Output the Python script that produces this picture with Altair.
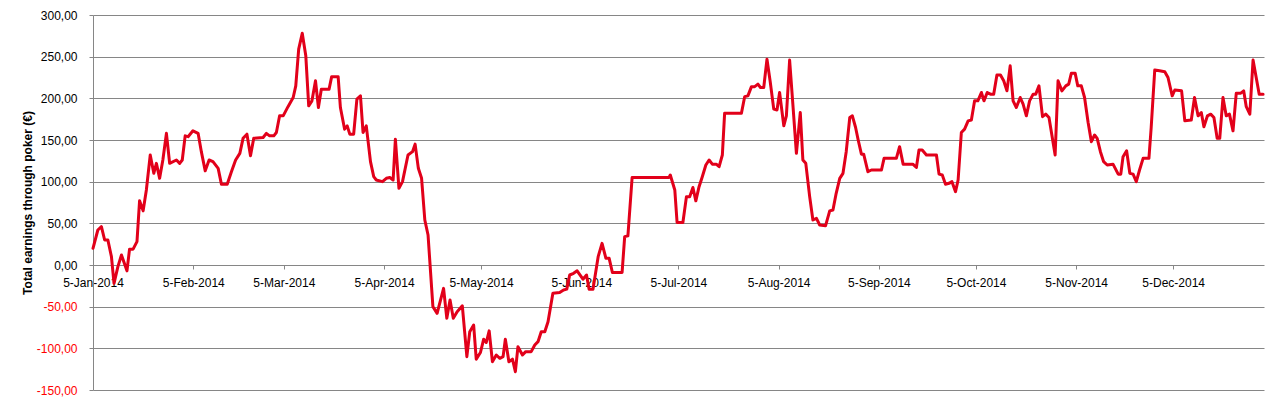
import altair as alt
import pandas as pd

START = "2014-01-05"

# day offsets from 5-Jan-2014
day_offsets = [
    0, 1.5, 2.6, 3.6, 4.6, 5.7, 6.5, 7.7, 8.8, 10.5, 11.3, 12.4, 13.6, 14.4, 15.5, 16.5, 17.7, 18.8, 19.6, 20.6,
    21.6, 22.7, 23.7, 25.8, 26.8, 27.6, 28.5, 29.4, 30.9, 32.5, 33.5, 34.7, 35.9, 37.1, 38.7, 39.7, 41.5, 42.8,
    44.1, 45.4, 46.4, 47.6, 48.7, 49.7, 52.6, 53.6, 54.6, 55.9, 56.7, 57.7, 58.8, 60.3, 61.9, 62.7, 63.6, 64.7,
    65.8, 66.7, 67.7, 68.8, 69.7, 70.6, 73.0, 73.8, 75.8, 76.5, 77.8, 78.6, 79.4, 80.6, 81.6, 82.7, 83.5, 84.5,
    85.8, 86.8, 87.6, 89.5, 90.7, 91.8, 92.8, 93.5, 94.6, 95.7, 97.4, 98.8, 99.6, 100.6, 101.6, 102.6, 103.6,
    105.1, 106.4, 108.4, 109.4, 110.4, 111.4, 112.6, 114.2, 115.6, 116.5, 117.7, 118.5, 119.8, 120.8, 121.6,
    122.5, 123.5, 124.7, 125.8, 126.8, 127.5, 128.6, 129.7, 130.6, 131.4, 132.8, 133.8, 135.5, 136.6, 137.6,
    138.6, 139.7, 140.7, 142.2, 144.3, 145.5, 146.5, 147.4, 148.6, 149.7, 151.5, 152.6, 153.4, 154.6, 156.2,
    157.4, 158.6, 159.6, 160.6, 163.6, 164.4, 165.4, 166.7, 178.1, 178.5, 179.9, 180.6, 182.4, 183.5, 184.5,
    185.5, 186.4, 187.4, 188.4, 189.5, 190.5, 191.5, 192.7, 193.6, 194.6, 195.3, 200.5, 201.5, 202.5, 203.6,
    204.6, 205.6, 206.4, 207.4, 208.4, 209.4, 210.5, 211.5, 212.3, 213.6, 214.4, 215.4, 216.4, 217.5, 218.7,
    219.5, 220.4, 221.6, 222.6, 223.7, 224.7, 226.5, 227.8, 228.8, 229.8, 230.9, 231.9, 232.9, 234.0,
    234.8, 235.8, 236.6, 237.6, 238.3, 239.6, 240.7, 243.8, 244.6, 248.4, 249.4, 250.5, 253.5, 254.6, 255.4,
    256.4, 257.7, 260.8, 261.6, 262.6, 263.6, 264.7, 265.6, 266.7, 267.5, 268.5, 269.5, 270.6, 271.6, 272.6,
    273.6, 274.7, 275.5, 276.5, 277.5, 278.5, 279.5, 280.6, 281.6, 282.6, 283.6, 284.5, 285.5, 286.7, 287.6,
    288.6, 289.6, 290.7, 291.5, 292.5, 293.6, 294.6, 295.6, 297.5, 298.4, 299.6, 300.8, 301.7, 302.5, 303.7,
    304.5, 305.6, 306.6, 307.7, 308.7, 309.7, 310.5, 311.5, 312.5, 313.6, 315.4, 317.0, 317.8, 318.5, 319.6,
    320.6, 321.6, 322.6, 323.6, 324.7, 326.5, 327.2, 328.3, 329.8, 331.4, 332.4, 333.7, 334.5, 336.6, 337.6,
    339.6, 340.6, 341.7, 342.7, 343.5, 344.6, 345.6, 346.6, 347.6, 348.4, 349.4, 350.4, 351.4, 352.5, 353.5,
    354.8, 355.8, 356.6, 357.7, 358.7, 360.6, 361.8,
]

earnings = [
    20, 42, 46, 30, 30, 10, -22, -2, 12, -7, 19, 19, 28, 77, 65, 90, 132, 110, 122, 104,
    126, 158, 122, 126, 122, 126, 155, 154, 161, 158, 136, 113, 126, 124, 116, 97, 97, 112,
    126, 134, 152, 157, 131, 152, 153, 158, 155, 155, 159, 179, 179, 190, 201, 215, 259, 278,
    251, 191, 197, 221, 189, 211, 211, 226, 226, 189, 163, 167, 157, 157, 199, 203, 159, 167,
    124, 106, 102, 100, 104, 105, 102, 151, 92, 100, 132, 136, 145, 116, 104, 54, 36,
    -50, -58, -28, -64, -42, -64, -56, -49, -110, -80, -72, -113, -105, -89, -93,
    -79, -116, -108, -112, -110, -89, -116, -113, -128, -98, -108, -104, -104, -96, -92,
    -80, -80, -68, -34, -33, -30, -29, -12, -10, -7, -17, -12, -29, -29, 10,
    26, 8, 8, -9, -9, 34, 35, 105, 105, 108, 90, 51, 51, 82, 82,
    93, 77, 94, 106, 120, 126, 121, 121, 118, 132, 182, 182, 202, 203, 214,
    214, 217, 213, 213, 247, 220, 187, 186, 207, 167, 179, 246, 193, 134, 183,
    126, 122, 82, 54, 56, 48, 47, 65, 66, 86, 104, 110, 136, 177,
    179, 165, 150, 133, 133, 112, 114, 114, 128, 128, 142, 121, 121, 117, 138,
    138, 132, 132, 109, 108, 97, 98, 100, 88, 102, 159, 163, 173, 174, 197,
    197, 207, 197, 207, 205, 205, 228, 228, 221, 209, 239, 197, 189, 201, 193,
    179, 197, 205, 205, 215, 178, 181, 177, 132, 221, 209, 215, 217, 230, 230,
    215, 215, 201, 171, 148, 156, 152, 136, 124, 120, 121, 109, 109, 130, 137,
    110, 109, 100, 114, 128, 128, 165, 234, 233, 232, 225, 203, 210, 209, 173,
    174, 201, 179, 183, 166, 179, 181, 177, 152, 152, 201, 179, 181, 161, 206,
    206, 209, 190, 181, 246, 205, 205,
]

tick_months = [1, 2, 3, 4, 5, 6, 7, 8, 9, 10, 11, 12]
y_ticks = [-150, -100, -50, 0, 50, 100, 150, 200, 250, 300]

dates = pd.Timestamp(START) + pd.to_timedelta(day_offsets, unit="D")
df = pd.DataFrame({"date": dates.strftime("%Y-%m-%dT%H:%M:%S"), "earn": earnings})

GRID = "#868686"
FONT = "Liberation Sans"

x_axis = alt.Axis(
    values=[alt.DateTime(year=2014, month=m, date=5) for m in tick_months],
    format="%-d-%b-%Y",
    title=None,
    grid=False,
    domain=False,
    ticks=True,
    tickSize=4,
    tickColor=GRID,
    labelPadding=8,
    labelFlush=False,
    labelOverlap=False,
    offset=-125,
    labelFont=FONT,
    labelFontSize=12,
    labelColor="#000000",
)

y_axis = alt.Axis(
    values=y_ticks,
    title="Total earnings through poker (€)",
    titleFont=FONT,
    titleFontSize=12,
    titleFontWeight="bold",
    titleColor="#000000",
    titlePadding=2,
    labelExpr="(datum.value < 0 ? '-' : '') + replace(format(abs(datum.value), '.2f'), '.', ',')",
    labelFont=FONT,
    labelFontSize=12,
    labelPadding=12,
    labelColor={"condition": {"test": "datum.value < 0", "value": "#FF0000"}, "value": "#000000"},
    grid=True,
    gridColor=GRID,
    gridWidth=1,
    domain=True,
    domainColor=GRID,
    ticks=True,
    tickSize=4,
    tickColor=GRID,
)

chart = (
    alt.Chart(df)
    .mark_line(color="#E2001A", strokeWidth=3, strokeJoin="round", strokeCap="round")
    .encode(
        x=alt.X(
            "date:T",
            scale=alt.Scale(
                domain=[
                    alt.DateTime(year=2014, month=1, date=5),
                    alt.DateTime(year=2015, month=1, date=2, hours=2),
                ],
                nice=False,
            ),
            axis=x_axis,
        ),
        y=alt.Y(
            "earn:Q",
            scale=alt.Scale(domain=[-150, 300], nice=False, zero=False),
            axis=y_axis,
        ),
    )
    .properties(
        width=1171,
        height=375,
        autosize="none",
        padding={"left": 85, "top": 7, "right": 5, "bottom": 14},
        background="#FFFFFF",
    )
    .configure_view(strokeWidth=0)
)

chart.save("out.html", embed_options={"renderer": "svg", "actions": False})
